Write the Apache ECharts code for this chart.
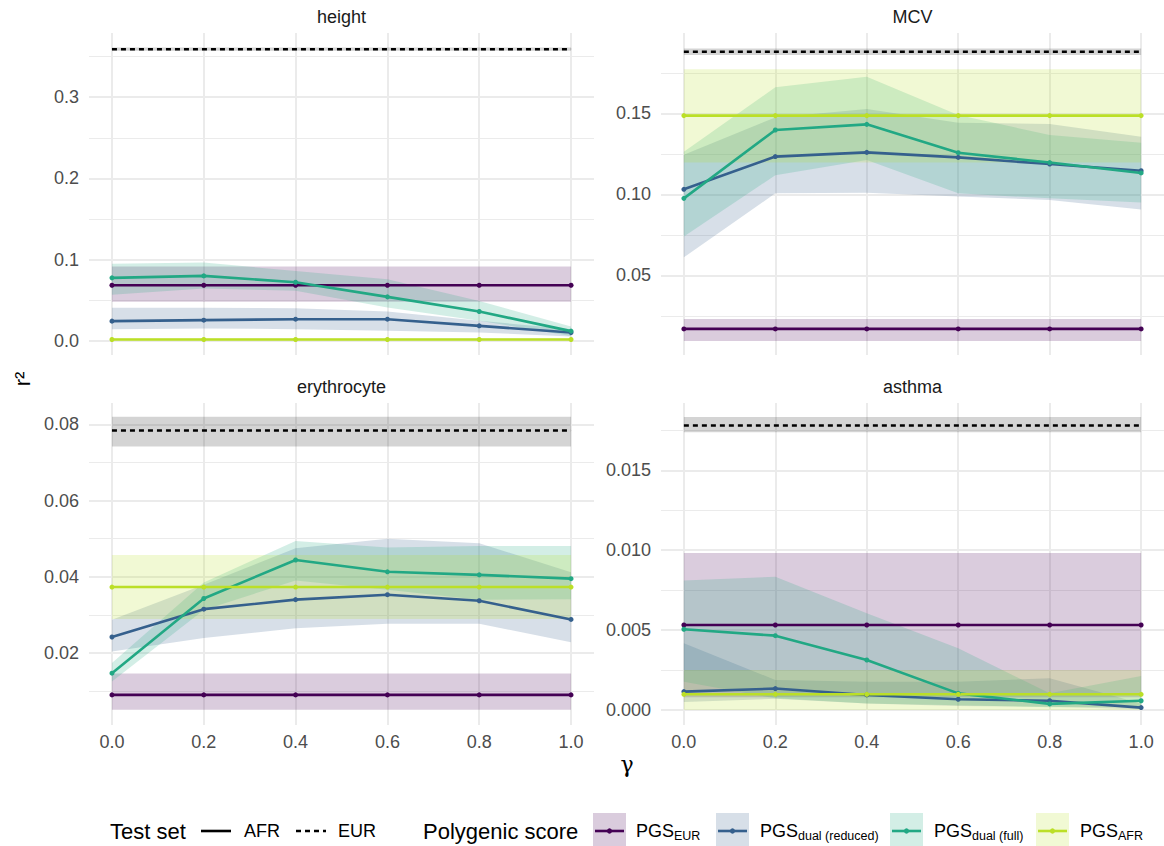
<!DOCTYPE html>
<html><head><meta charset="utf-8">
<script src="https://cdn.jsdelivr.net/npm/echarts@6/dist/echarts.min.js"></script>
<style>html,body{margin:0;padding:0;background:#fff}#c{width:1164px;height:846px}</style>
</head><body><div id="c"></div>
<script>
// ---------------- data ----------------
const gamma = [0, 0.2, 0.4, 0.6, 0.8, 1.0];
const xTicks = [0, 0.2, 0.4, 0.6, 0.8, 1.0];
const panelNames = ['height', 'MCV', 'erythrocyte', 'asthma'];
const scoreColors = ['#440154', '#35608D', '#22A884', '#BBDF27'];

// height
const height_eurTest = [0.359, 0.359, 0.359, 0.359, 0.359, 0.359];
const height_eurTest_lo = [0.357, 0.357, 0.357, 0.357, 0.357, 0.357];
const height_eurTest_hi = [0.361, 0.361, 0.361, 0.361, 0.361, 0.361];
const height_pgsEUR = [0.0684, 0.0684, 0.0684, 0.0684, 0.0684, 0.0684];
const height_pgsEUR_lo = [0.048, 0.048, 0.048, 0.048, 0.048, 0.048];
const height_pgsEUR_hi = [0.0914, 0.0914, 0.0914, 0.0914, 0.0914, 0.0914];
const height_pgsRed = [0.0242, 0.0254, 0.0266, 0.0266, 0.0184, 0.0102];
const height_pgsRed_lo = [0.0143, 0.0152, 0.0143, 0.0123, 0.0102, 0.0053];
const height_pgsRed_hi = [0.0406, 0.0406, 0.0400, 0.0360, 0.0246, 0.0143];
const height_pgsFull = [0.0775, 0.0799, 0.0721, 0.0541, 0.0361, 0.0119];
const height_pgsFull_lo = [0.0566, 0.0643, 0.0615, 0.0410, 0.0246, 0.0060];
const height_pgsFull_hi = [0.0950, 0.0963, 0.0860, 0.0758, 0.0490, 0.0176];
const height_pgsAFR = [0.0016, 0.0016, 0.0016, 0.0016, 0.0016, 0.0016];
const height_pgsAFR_lo = [0.0005, 0.0005, 0.0005, 0.0005, 0.0005, 0.0005];
const height_pgsAFR_hi = [0.0030, 0.0030, 0.0030, 0.0030, 0.0030, 0.0030];

// MCV
const mcv_eurTest = [0.188, 0.188, 0.188, 0.188, 0.188, 0.188];
const mcv_eurTest_lo = [0.186, 0.186, 0.186, 0.186, 0.186, 0.186];
const mcv_eurTest_hi = [0.190, 0.190, 0.190, 0.190, 0.190, 0.190];
const mcv_pgsEUR = [0.0169, 0.0169, 0.0169, 0.0169, 0.0169, 0.0169];
const mcv_pgsEUR_lo = [0.0094, 0.0094, 0.0094, 0.0094, 0.0094, 0.0094];
const mcv_pgsEUR_hi = [0.0230, 0.0230, 0.0230, 0.0230, 0.0230, 0.0230];
const mcv_pgsRed = [0.1031, 0.1233, 0.1259, 0.1228, 0.1187, 0.1146];
const mcv_pgsRed_lo = [0.0611, 0.1006, 0.1010, 0.0986, 0.0965, 0.0907];
const mcv_pgsRed_hi = [0.1245, 0.1475, 0.1527, 0.1442, 0.1434, 0.1356];
const mcv_pgsFull = [0.0975, 0.1397, 0.1432, 0.1257, 0.1196, 0.1132];
const mcv_pgsFull_lo = [0.0739, 0.1118, 0.1212, 0.1006, 0.0975, 0.0949];
const mcv_pgsFull_hi = [0.1263, 0.1661, 0.1726, 0.1490, 0.1366, 0.1319];
const mcv_pgsAFR = [0.1486, 0.1486, 0.1486, 0.1486, 0.1486, 0.1486];
const mcv_pgsAFR_lo = [0.1196, 0.1196, 0.1196, 0.1196, 0.1196, 0.1196];
const mcv_pgsAFR_hi = [0.1772, 0.1772, 0.1772, 0.1772, 0.1772, 0.1772];

// erythrocyte
const ery_eurTest = [0.0784, 0.0784, 0.0784, 0.0784, 0.0784, 0.0784];
const ery_eurTest_lo = [0.0742, 0.0742, 0.0742, 0.0742, 0.0742, 0.0742];
const ery_eurTest_hi = [0.0820, 0.0820, 0.0820, 0.0820, 0.0820, 0.0820];
const ery_pgsEUR = [0.0090, 0.0090, 0.0090, 0.0090, 0.0090, 0.0090];
const ery_pgsEUR_lo = [0.0051, 0.0051, 0.0051, 0.0051, 0.0051, 0.0051];
const ery_pgsEUR_hi = [0.0146, 0.0146, 0.0146, 0.0146, 0.0146, 0.0146];
const ery_pgsRed = [0.0242, 0.0315, 0.0340, 0.0353, 0.0337, 0.0288];
const ery_pgsRed_lo = [0.0204, 0.0239, 0.0265, 0.0277, 0.0277, 0.0228];
const ery_pgsRed_hi = [0.0287, 0.0379, 0.0475, 0.0500, 0.0488, 0.0412];
const ery_pgsFull = [0.0147, 0.0343, 0.0444, 0.0413, 0.0405, 0.0395];
const ery_pgsFull_lo = [0.0125, 0.0313, 0.0390, 0.0366, 0.0340, 0.0341];
const ery_pgsFull_hi = [0.0174, 0.0385, 0.0494, 0.0477, 0.0481, 0.0481];
const ery_pgsAFR = [0.0373, 0.0373, 0.0373, 0.0373, 0.0373, 0.0373];
const ery_pgsAFR_lo = [0.0289, 0.0289, 0.0289, 0.0289, 0.0289, 0.0289];
const ery_pgsAFR_hi = [0.0457, 0.0457, 0.0457, 0.0457, 0.0457, 0.0457];

// asthma
const ast_eurTest = [0.0178, 0.0178, 0.0178, 0.0178, 0.0178, 0.0178];
const ast_eurTest_lo = [0.01738, 0.01738, 0.01738, 0.01738, 0.01738, 0.01738];
const ast_eurTest_hi = [0.01834, 0.01834, 0.01834, 0.01834, 0.01834, 0.01834];
const ast_pgsEUR = [0.00532, 0.00532, 0.00532, 0.00532, 0.00532, 0.00532];
const ast_pgsEUR_lo = [0.0008, 0.0008, 0.0008, 0.0008, 0.0008, 0.0008];
const ast_pgsEUR_hi = [0.00983, 0.00983, 0.00983, 0.00983, 0.00983, 0.00983];
const ast_pgsRed = [0.00115, 0.00134, 0.00094, 0.00067, 0.00058, 0.00015];
const ast_pgsRed_lo = [0.0005, 0.0007, 0.0004, 0.00025, 0.0002, 0.00004];
const ast_pgsRed_hi = [0.00417, 0.00188, 0.00177, 0.00177, 0.00198, 0.0004];
const ast_pgsFull = [0.00505, 0.00465, 0.00313, 0.00104, 0.00038, 0.00058];
const ast_pgsFull_lo = [0.00177, 0.00073, 0.0004, 0.0003, 0.00017, 0.0002];
const ast_pgsFull_hi = [0.0081, 0.00834, 0.00605, 0.00386, 0.00104, 0.00213];
const ast_pgsAFR = [0.00098, 0.00098, 0.00098, 0.00098, 0.00098, 0.00098];
const ast_pgsAFR_lo = [0.0, 0.0, 0.0, 0.0, 0.0, 0.0];
const ast_pgsAFR_hi = [0.0025, 0.0025, 0.0025, 0.0025, 0.0025, 0.0025];

// y-axis ticks per panel
const height_yMajor = [0, 0.1, 0.2, 0.3];
const height_yMinor = [0.05, 0.15, 0.25, 0.35];
const mcv_yMajor = [0.05, 0.10, 0.15];
const mcv_yMinor = [0.025, 0.075, 0.125, 0.175];
const ery_yMajor = [0.02, 0.04, 0.06, 0.08];
const ery_yMinor = [0.01, 0.03, 0.05, 0.07];
const ast_yMajor = [0, 0.005, 0.010, 0.015];
const ast_yMinor = [0.0025, 0.0075, 0.0125, 0.0175];

// ---------------- layout ----------------
const FONT = "'Liberation Sans', Arial, sans-serif";
const gridBoxes = [
  {left: 89, top: 33, width: 505, height: 322},
  {left: 661, top: 33, width: 505, height: 322},
  {left: 89, top: 403, width: 505, height: 322},
  {left: 661, top: 403, width: 505, height: 322}
];
const yRanges = [[-0.0175, 0.3790], [0.0008, 0.1996], [0.0011, 0.0856], [-0.00094, 0.01921]];
const yDecimals = [1, 2, 2, 3];

const panels = [
  {major: height_yMajor, minor: height_yMinor,
   eurTest: [height_eurTest, height_eurTest_lo, height_eurTest_hi],
   scores: [[height_pgsEUR, height_pgsEUR_lo, height_pgsEUR_hi],
            [height_pgsRed, height_pgsRed_lo, height_pgsRed_hi],
            [height_pgsFull, height_pgsFull_lo, height_pgsFull_hi],
            [height_pgsAFR, height_pgsAFR_lo, height_pgsAFR_hi]]},
  {major: mcv_yMajor, minor: mcv_yMinor,
   eurTest: [mcv_eurTest, mcv_eurTest_lo, mcv_eurTest_hi],
   scores: [[mcv_pgsEUR, mcv_pgsEUR_lo, mcv_pgsEUR_hi],
            [mcv_pgsRed, mcv_pgsRed_lo, mcv_pgsRed_hi],
            [mcv_pgsFull, mcv_pgsFull_lo, mcv_pgsFull_hi],
            [mcv_pgsAFR, mcv_pgsAFR_lo, mcv_pgsAFR_hi]]},
  {major: ery_yMajor, minor: ery_yMinor,
   eurTest: [ery_eurTest, ery_eurTest_lo, ery_eurTest_hi],
   scores: [[ery_pgsEUR, ery_pgsEUR_lo, ery_pgsEUR_hi],
            [ery_pgsRed, ery_pgsRed_lo, ery_pgsRed_hi],
            [ery_pgsFull, ery_pgsFull_lo, ery_pgsFull_hi],
            [ery_pgsAFR, ery_pgsAFR_lo, ery_pgsAFR_hi]]},
  {major: ast_yMajor, minor: ast_yMinor,
   eurTest: [ast_eurTest, ast_eurTest_lo, ast_eurTest_hi],
   scores: [[ast_pgsEUR, ast_pgsEUR_lo, ast_pgsEUR_hi],
            [ast_pgsRed, ast_pgsRed_lo, ast_pgsRed_hi],
            [ast_pgsFull, ast_pgsFull_lo, ast_pgsFull_hi],
            [ast_pgsAFR, ast_pgsAFR_lo, ast_pgsAFR_hi]]}
];

function hexA(hex, a) {
  const r = parseInt(hex.slice(1, 3), 16), g = parseInt(hex.slice(3, 5), 16), b = parseInt(hex.slice(5, 7), 16);
  return 'rgba(' + r + ',' + g + ',' + b + ',' + a + ')';
}

function bandSeries(pi, lo, hi, fill) {
  return {
    type: 'custom', xAxisIndex: pi, yAxisIndex: pi * 2, silent: true, z: 1,
    clip: true,
    data: gamma.map((g, i) => [g, lo[i], hi[i]]),
    encode: {x: 0, y: [1, 2]},
    renderItem: function (params, api) {
      if (params.dataIndex !== 0) return null;
      const pts = [];
      for (let i = 0; i < gamma.length; i++) pts.push(api.coord([gamma[i], hi[i]]));
      for (let i = gamma.length - 1; i >= 0; i--) pts.push(api.coord([gamma[i], lo[i]]));
      return {type: 'polygon', shape: {points: pts}, style: {fill: fill}};
    }
  };
}

const grid = [], xAxis = [], yAxis = [], series = [];
panels.forEach((p, pi) => {
  grid.push(Object.assign({containLabel: false}, gridBoxes[pi]));
  const bottom = pi >= 2;
  xAxis.push({
    type: 'value', gridIndex: pi, min: -0.05, max: 1.05,
    axisLine: {show: false},
    axisTick: {show: false, customValues: xTicks},
    axisLabel: {show: bottom, customValues: xTicks, margin: 8, color: '#4D4D4D', fontSize: 18, fontFamily: FONT,
      formatter: v => v.toFixed(1)},
    splitLine: {show: true, lineStyle: {color: '#EBEBEB', width: 2}}
  });
  yAxis.push({
    type: 'value', gridIndex: pi, min: yRanges[pi][0], max: yRanges[pi][1],
    axisLine: {show: false},
    axisTick: {show: false, customValues: p.major},
    axisLabel: {show: true, customValues: p.major, margin: 10, color: '#4D4D4D', fontSize: 18, fontFamily: FONT,
      formatter: v => v.toFixed(yDecimals[pi])},
    splitLine: {show: true, lineStyle: {color: '#EBEBEB', width: 2}}
  });
  yAxis.push({
    type: 'value', gridIndex: pi, min: yRanges[pi][0], max: yRanges[pi][1],
    axisLine: {show: false},
    axisTick: {show: false, customValues: p.minor},
    axisLabel: {show: false},
    splitLine: {show: true, lineStyle: {color: '#EBEBEB', width: 1.1}}
  });

  // ribbons
  series.push(bandSeries(pi, p.eurTest[1], p.eurTest[2], 'rgba(0,0,0,0.17)'));
  p.scores.forEach((s, si) => series.push(bandSeries(pi, s[1], s[2], hexA(scoreColors[si], 0.2))));
  // lines
  series.push({
    type: 'line', xAxisIndex: pi, yAxisIndex: pi * 2, silent: true, z: 3,
    data: gamma.map((g, i) => [g, p.eurTest[0][i]]),
    symbol: 'none', lineStyle: {color: '#000', width: 2.4, type: [5, 4]}
  });
  p.scores.forEach((s, si) => series.push({
    type: 'line', xAxisIndex: pi, yAxisIndex: pi * 2, silent: true, z: 3,
    data: gamma.map((g, i) => [g, s[0][i]]),
    symbol: 'circle', symbolSize: 5, showSymbol: true,
    itemStyle: {color: scoreColors[si], borderWidth: 0},
    lineStyle: {color: scoreColors[si], width: 2.6}
  }));
});

// strip titles, axis titles, legend
const graphic = [];
gridBoxes.forEach((g, i) => {
  graphic.push({type: 'text', x: g.left + g.width / 2 - (i % 2 ? 1 : 0), y: g.top - 16,
    style: {text: panelNames[i], textAlign: 'center', textVerticalAlign: 'middle', fontSize: 18, fontFamily: FONT, fill: '#1A1A1A'}});
});
graphic.push({type: 'text', x: 22, y: 379, rotation: Math.PI / 2,
  style: {text: 'r²', textAlign: 'center', textVerticalAlign: 'middle', fontSize: 22, fontFamily: FONT, fill: '#000'}});
graphic.push({type: 'text', x: 627, y: 764,
  style: {text: 'γ', textAlign: 'center', textVerticalAlign: 'middle', fontSize: 22, fontFamily: "'DejaVu Serif', serif", fill: '#000'}});

const LY = 831;
graphic.push({type: 'text', x: 110, y: LY, style: {text: 'Test set', textVerticalAlign: 'middle', fontSize: 22, fontFamily: FONT, fill: '#000'}});
graphic.push({type: 'line', shape: {x1: 201, y1: LY, x2: 231, y2: LY}, style: {stroke: '#000', lineWidth: 2.6}});
graphic.push({type: 'text', x: 244, y: LY, style: {text: 'AFR', textVerticalAlign: 'middle', fontSize: 18, fontFamily: FONT, fill: '#000'}});
graphic.push({type: 'line', shape: {x1: 296, y1: LY, x2: 326, y2: LY}, style: {stroke: '#000', lineWidth: 2.4, lineDash: [5, 4]}});
graphic.push({type: 'text', x: 338, y: LY, style: {text: 'EUR', textVerticalAlign: 'middle', fontSize: 18, fontFamily: FONT, fill: '#000'}});
graphic.push({type: 'text', x: 423, y: LY, style: {text: 'Polygenic score', textVerticalAlign: 'middle', fontSize: 22, fontFamily: FONT, fill: '#000'}});

const keyX = [593, 716, 890, 1036];
const labX = [636, 760, 934, 1080];
const subs = ['EUR', 'dual (reduced)', 'dual (full)', 'AFR'];
keyX.forEach((kx, i) => {
  graphic.push({type: 'rect', shape: {x: kx, y: LY - 18, width: 33, height: 36}, style: {fill: hexA(scoreColors[i], 0.2)}});
  graphic.push({type: 'line', shape: {x1: kx + 2, y1: LY, x2: kx + 31, y2: LY}, style: {stroke: scoreColors[i], lineWidth: 2.6}});
  graphic.push({type: 'circle', shape: {cx: kx + 16.5, cy: LY, r: 2.6}, style: {fill: scoreColors[i]}});
  graphic.push({type: 'text', x: labX[i], y: LY,
    style: {text: '{m|PGS}{s|' + subs[i] + '}', textVerticalAlign: 'middle', fill: '#000',
      rich: {m: {fontSize: 18, fontFamily: FONT, lineHeight: 22, verticalAlign: 'middle', fill: '#000'},
             s: {fontSize: 12.5, fontFamily: FONT, lineHeight: 12, verticalAlign: 'bottom', fill: '#000'}}}});
});

const chart = echarts.init(document.getElementById('c'), null, {renderer: 'svg', width: 1164, height: 846});
chart.setOption({
  animation: false,
  backgroundColor: '#fff',
  grid: grid, xAxis: xAxis, yAxis: yAxis, series: series, graphic: graphic
});
</script></body></html>
